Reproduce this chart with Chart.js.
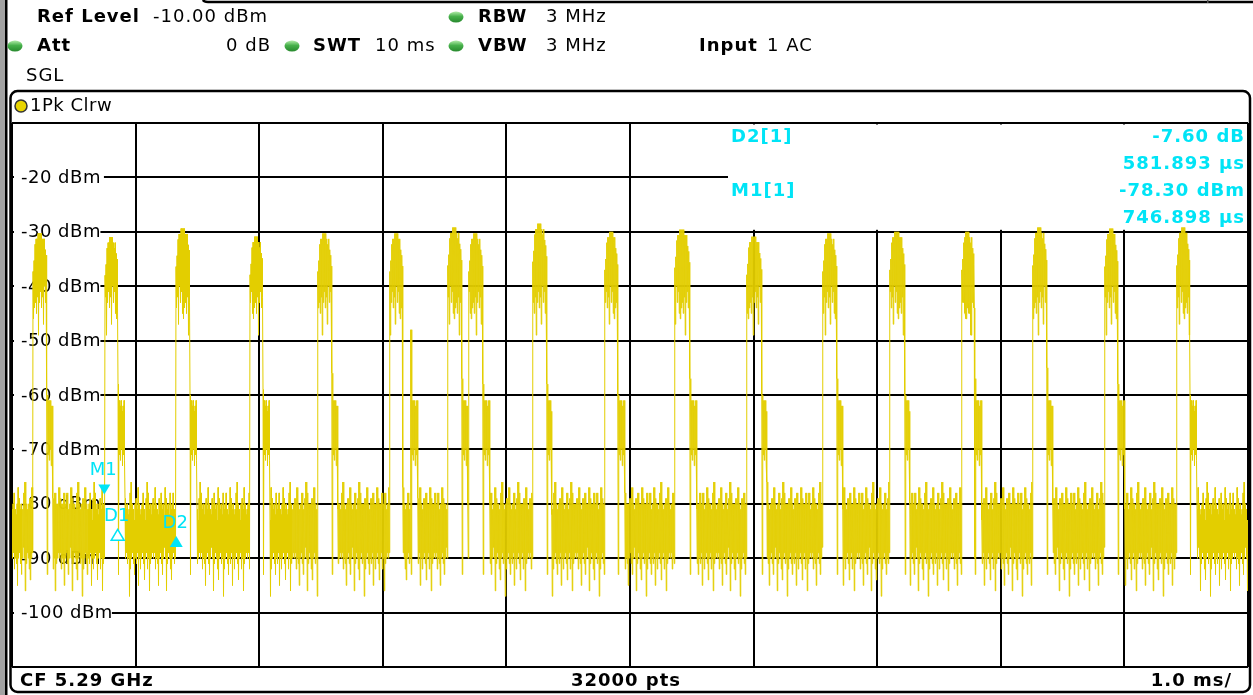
<!DOCTYPE html>
<html>
<head>
<meta charset="utf-8">
<script src="https://cdn.jsdelivr.net/npm/chart.js@4.4.0/dist/chart.umd.min.js"></script>
<style>
  html, body { margin: 0; padding: 0; background: #fff; overflow: hidden; }
  canvas { display: block; }
</style>
</head>
<body>
<canvas id="trace" width="1253" height="695"></canvas>
<script>
// axis ranges (zero span, 1 ms/div)
const timeMin = 0, timeMax = 10;
const levelMin = -110, levelMax = -10;
const levelTicks = [-20, -30, -40, -50, -60, -70, -80, -90, -100];

// packet bursts, times in ms
const burstStart = [0.167, 0.749, 1.324, 1.922, 2.473, 3.055, 3.524, 3.694, 4.212, 4.794, 5.361, 5.943, 6.558, 7.100, 7.682, 8.257, 8.840, 9.422];
const burstEnd   = [0.280, 0.854, 1.437, 2.027, 2.586, 3.160, 3.638, 3.808, 4.325, 4.900, 5.482, 6.064, 6.671, 7.222, 7.788, 8.370, 8.945, 9.527];
const burstPeak  = [-30.3, -31, -29.4, -30.9, -30.3, -30.3, -29.2, -30.3, -28.5, -30, -29.6, -30.9, -30.3, -30, -30, -29.2, -29.4, -29.2];

// short ack bursts after each packet
const ackStart = [0.280, 0.854, 1.437, 2.027, 2.586, 3.225, 3.638, 3.808, 4.325, 4.900, 5.482, 6.064, 6.671, 7.222, 7.788, 8.370, 8.945, 9.527];
const ackEnd   = [0.328, 0.911, 1.494, 2.084, 2.634, 3.282, 3.686, 3.864, 4.366, 4.956, 5.539, 6.105, 6.720, 7.262, 7.845, 8.419, 9.001, 9.584];
const ackPeak  = [-60, -58, -60, -59, -56, -48, -57, -58, -58, -60, -57, -60, -57, -60, -57, -55, -58, -60];

// max / min of the trace (dBm) per screen column, as seen in the picture
const floorHi = [-81, -80, -78, -81, -82, -80, -77, -79, -81, -80, -82, -81, -78, -76, -80, -81, -83, -80, -79, -81, -77, -80, -82, -81, -80, -78, -81, -83, -79, -76, -78, -81, -80, -82, -80, -79, -81, -77, -80, -81, -82, -79, -80, -78, -81, -80, -83, -77, -79, -81, -80, -82, -78];
const floorLo = [-90, -89, -92, -90, -91, -95, -90, -89, -91, -93, -90, -88, -90, -96, -91, -89, -90, -92, -94, -90, -89, -91, -90, -97, -92, -90, -89, -91, -93, -90, -91, -89, -95, -90, -92, -90, -89, -91, -94, -90, -89, -92, -90, -96, -91, -90, -89];
const burstHi = [-37, -35, -32, -31, -31, -30, -30, -31, -30, -31, -32, -31, -33, -34, -36];
const burstLo = [-46, -44, -43, -45, -42, -49, -43, -41, -44, -42, -47, -40, -43, -41, -45];
const ackHi = [-60, -61, -62, -61, -63, -62, -61];
const ackLo = [-93, -71, -72, -70, -73, -71, -72];

// markers
const markerNames  = ['M1', 'D1', 'D2'];
const markerTimes  = [0.746898, 0.855, 1.328791];
const markerLevels = [-78.3, -84.7, -85.9];

const YELLOW = 'rgb(227,206,0)';
const CYAN = '#00E4F6';
const FONT = '"DejaVu Sans", Verdana, sans-serif';

function buildTrace() {
  const step = (timeMax - timeMin) / 1236 / 2; // half a screen column
  const segs = [];
  burstStart.forEach((s, i) => segs.push({ kind: 'burst', s, e: burstEnd[i], i }));
  ackStart.forEach((s, i) => segs.push({ kind: 'ack', s, e: ackEnd[i], i }));
  segs.sort((a, b) => a.s - b.s);

  const pts = [];
  let t = timeMin, col = 0;
  const pushCol = (hi, lo) => {
    pts.push({ x: t, y: hi });
    pts.push({ x: t + step / 2, y: lo });
    t += step; col++;
  };
  const floorCol = () => {
    const px = Math.floor(col / 2);
    pushCol(floorHi[px % floorHi.length], floorLo[px % floorLo.length]);
  };

  for (const seg of segs) {
    while (t < seg.s) floorCol();
    const n = Math.max(1, Math.round((seg.e - seg.s) / step));
    for (let k = 0; k < n; k++) {
      const kk = Math.floor(k / 2);
      if (seg.kind === 'burst') {
        const kh = Math.floor(k / n * burstHi.length);
        pushCol(burstHi[kh] + burstPeak[seg.i] + 30, burstLo[(kk + seg.i * 4) % burstLo.length]);
      } else {
        pushCol(kk === 0 ? ackPeak[seg.i] : ackHi[kk % ackHi.length], ackLo[kk % ackLo.length]);
      }
    }
  }
  while (t <= timeMax) floorCol();
  return pts;
}

function text(c, s, x, y, opt = {}) {
  c.font = (opt.bold ? 'bold ' : '') + (opt.size || 18) + 'px ' + FONT;
  c.fillStyle = opt.color || '#000';
  c.textAlign = opt.align || 'left';
  c.textBaseline = 'middle';
  c.letterSpacing = opt.spacing || '1px';
  c.fillText(s, x, y);
  c.letterSpacing = '0px';
}

function led(c, x, y) {
  const g = c.createLinearGradient(0, y - 5, 0, y + 5);
  g.addColorStop(0, '#a8e6a0');
  g.addColorStop(0.45, '#46b04a');
  g.addColorStop(1, '#2a8c30');
  c.fillStyle = g;
  c.beginPath();
  c.ellipse(x, y, 7.5, 5.5, 0, 0, Math.PI * 2);
  c.fill();
}

const screenFrame = {
  id: 'screenFrame',
  beforeDraw(chart) {
    const c = chart.ctx;
    c.save();
    c.fillStyle = '#fff';
    c.fillRect(0, 0, chart.width, chart.height);

    // left edge of the instrument screen
    c.fillStyle = '#a2a2a2';
    c.fillRect(0, 0, 5, chart.height);
    c.fillStyle = '#000';
    c.fillRect(5, 0, 2.5, chart.height);

    // box above, only its lower edge is on screen
    c.strokeStyle = '#000';
    c.lineWidth = 2.5;
    c.beginPath();
    c.moveTo(203, 0);
    c.quadraticCurveTo(204, 2, 208, 2);
    c.lineTo(1253, 2);
    c.stroke();
    c.fillStyle = '#555';
    c.fillRect(1207, 0, 1.5, 3);

    // setting header
    text(c, 'Ref Level', 37, 17, { bold: true });
    text(c, '-10.00 dBm', 153, 17);
    led(c, 456, 17);
    text(c, 'RBW', 478, 17, { bold: true });
    text(c, '3 MHz', 546, 17);

    led(c, 15, 46);
    text(c, 'Att', 37, 46, { bold: true });
    text(c, '0 dB', 271, 46, { align: 'right' });
    led(c, 292, 46);
    text(c, 'SWT', 313, 46, { bold: true });
    text(c, '10 ms', 375, 46);
    led(c, 456, 46);
    text(c, 'VBW', 478, 46, { bold: true });
    text(c, '3 MHz', 546, 46);
    text(c, 'Input', 699, 46, { bold: true });
    text(c, '1 AC', 767, 46);

    text(c, 'SGL', 26, 76);

    // trace window title
    c.beginPath();
    c.arc(21, 106, 6, 0, Math.PI * 2);
    c.fillStyle = '#e8d400';
    c.fill();
    c.lineWidth = 1.5;
    c.strokeStyle = '#333';
    c.stroke();
    text(c, '1Pk Clrw', 30, 106, { spacing: '0.5px' });
    c.restore();
  },
  beforeDatasetsDraw(chart) {
    const { ctx: c, chartArea: a, scales: { y } } = chart;
    c.save();
    // marker readout field hides the grid
    c.fillStyle = '#fff';
    c.fillRect(728, a.top + 1.5, a.right - 728 - 1, y.getPixelForValue(-30) - a.top - 3.5);

    // level labels sit inside the diagram
    c.font = '18px ' + FONT;
    c.letterSpacing = '0.5px';
    levelTicks.forEach(v => {
      const s = v + ' dBm';
      const py = y.getPixelForValue(v);
      const w = c.measureText(s).width;
      c.fillStyle = '#fff';
      c.fillRect(a.left + 2, py - 9, w + 10, 18);
      text(c, s, 21, py + 1, { spacing: '0.5px' });
    });
    c.restore();
  },
  afterDatasetsDraw(chart) {
    const { ctx: c, scales: { x, y } } = chart;
    c.save();
    markerNames.forEach((name, i) => {
      const px = x.getPixelForValue(markerTimes[i]);
      const py = y.getPixelForValue(markerLevels[i]);
      c.beginPath();
      if (name === 'M1') {
        c.moveTo(px - 6, py - 10);
        c.lineTo(px + 6, py - 10);
        c.lineTo(px, py);
      } else {
        c.moveTo(px, py);
        c.lineTo(px - 6.5, py + 11);
        c.lineTo(px + 6.5, py + 11);
      }
      c.closePath();
      if (name === 'D1') {
        c.fillStyle = '#fff';
        c.fill();
        c.strokeStyle = CYAN;
        c.lineWidth = 1.5;
        c.stroke();
      } else {
        c.fillStyle = CYAN;
        c.fill();
      }
      const ly = name === 'M1' ? py - 24 : py - 13;
      text(c, name, px - 1, ly, { color: CYAN, align: 'center', spacing: '0px' });
    });

    // readout
    const dLevel = (markerLevels[2] - markerLevels[0]).toFixed(2);
    const dTime = ((markerTimes[2] - markerTimes[0]) * 1000).toFixed(3);
    const opt = { bold: true, color: CYAN };
    text(c, 'D2[1]', 731, 137, opt);
    text(c, dLevel + ' dB', 1245, 137, { ...opt, align: 'right' });
    text(c, dTime + ' µs', 1245, 164, { ...opt, align: 'right' });
    text(c, 'M1[1]', 731, 191, opt);
    text(c, markerLevels[0].toFixed(2) + ' dBm', 1245, 191, { ...opt, align: 'right' });
    text(c, (markerTimes[0] * 1000).toFixed(3) + ' µs', 1245, 218, { ...opt, align: 'right' });
    c.restore();
  },
  afterDraw(chart) {
    const c = chart.ctx;
    c.save();
    // window outline with rounded corners
    c.strokeStyle = '#000';
    c.lineWidth = 2.5;
    c.beginPath();
    c.roundRect(10.5, 91, 1239.5, 601, 7);
    c.stroke();

    text(c, 'CF 5.29 GHz', 20, 681, { bold: true });
    text(c, '32000 pts', 626, 681, { bold: true, align: 'center' });
    text(c, '1.0 ms/', 1232, 681, { bold: true, align: 'right' });
    c.restore();
  }
};

const gridStyle = { color: '#000', lineWidth: 2, drawTicks: false };

new Chart(document.getElementById('trace'), {
  type: 'line',
  data: {
    datasets: [{
      data: buildTrace(),
      borderColor: YELLOW,
      borderWidth: 1,
      pointRadius: 0,
      tension: 0,
      fill: false
    }]
  },
  options: {
    responsive: false,
    animation: false,
    devicePixelRatio: 1,
    layout: { padding: { left: 12, top: 123, right: 5, bottom: 28 } },
    plugins: { legend: { display: false }, tooltip: { enabled: false } },
    scales: {
      x: {
        type: 'linear', min: timeMin, max: timeMax,
        ticks: { display: false, stepSize: 1 },
        grid: gridStyle,
        border: { display: false },
        afterFit(s) { s.height = 0; }
      },
      y: {
        type: 'linear', min: levelMin, max: levelMax,
        ticks: { display: false, stepSize: 10 },
        grid: gridStyle,
        border: { display: false },
        afterFit(s) { s.width = 0; }
      }
    }
  },
  plugins: [screenFrame]
});
</script>
</body>
</html>
